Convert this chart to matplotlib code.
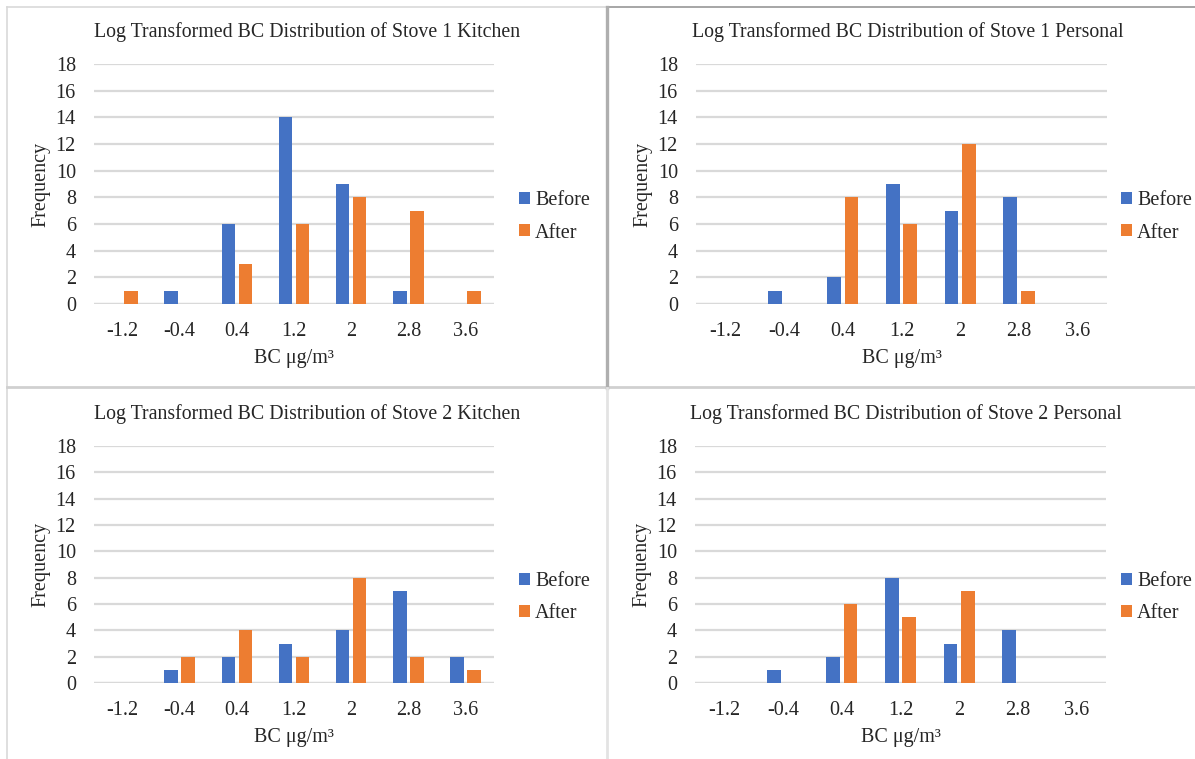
import matplotlib
matplotlib.use("Agg")
import matplotlib.pyplot as plt
from matplotlib.lines import Line2D
import numpy as np

plt.rcParams['font.family'] = ['Liberation Serif', 'DejaVu Serif']

categories = ["-1.2", "-0.4", "0.4", "1.2", "2", "2.8", "3.6"]
series_names = ["Before", "After"]

titles = [
    "Log Transformed BC Distribution of Stove 1 Kitchen",
    "Log Transformed BC Distribution of Stove 1 Personal",
    "Log Transformed BC Distribution of Stove 2 Kitchen",
    "Log Transformed BC Distribution of Stove 2 Personal",
]

s1_kitchen_before = [0, 1, 6, 14, 9, 1, 0]
s1_kitchen_after = [1, 0, 3, 6, 8, 7, 1]
s1_personal_before = [0, 1, 2, 9, 7, 8, 0]
s1_personal_after = [0, 0, 8, 6, 12, 1, 0]
s2_kitchen_before = [0, 1, 2, 3, 4, 7, 2]
s2_kitchen_after = [0, 2, 4, 2, 8, 2, 1]
s2_personal_before = [0, 1, 2, 8, 3, 4, 0]
s2_personal_after = [0, 0, 6, 5, 7, 0, 0]

panel_data = [
    (s1_kitchen_before, s1_kitchen_after),
    (s1_personal_before, s1_personal_after),
    (s2_kitchen_before, s2_kitchen_after),
    (s2_personal_before, s2_personal_after),
]

W, H = 1195, 759
fig = plt.figure(figsize=(W / 100, H / 100), dpi=100)
fig.patch.set_facecolor('white')

BLUE = '#4472C4'
ORANGE = '#ED7D31'
GRID = '#D9D9D9'
TXT = '#262626'

# axes rectangles in pixels: (left, right, top(18), bottom(0))
rects = [
    (94, 494, 64, 304),
    (696, 1107, 64, 304),
    (94, 494, 446, 683),
    (695, 1106, 446, 683),
]
legend_x = [519, 1121, 519, 1121]
title_pos = [(307, 32), (908, 32), (307, 414), (906, 414)]

for i, ((l, r, t, b), (before, after)) in enumerate(zip(rects, panel_data)):
    ax = fig.add_axes([l / W, 1 - b / H, (r - l) / W, (b - t) / H])
    x = np.arange(len(categories))
    ax.bar(x - 0.149, before, width=0.237, color=BLUE, label=series_names[0], zorder=3)
    ax.bar(x + 0.149, after, width=0.237, color=ORANGE, label=series_names[1], zorder=3)
    ax.set_xlim(-0.5, len(categories) - 0.5)
    ax.set_ylim(0, 18)
    ax.set_yticks(range(0, 19, 2))
    ax.set_xticks(x)
    ax.set_xticklabels(categories)
    ax.yaxis.grid(True, color=GRID, linewidth=1.6, zorder=0)
    ax.set_axisbelow(True)
    for s in ax.spines.values():
        s.set_visible(False)
    ax.axhline(0, color=GRID, linewidth=1.6, zorder=1)
    ax.tick_params(axis='both', length=0, labelsize=14.5, colors=TXT)
    ax.tick_params(axis='y', pad=13)
    ax.tick_params(axis='x', pad=13)
    ax.set_xlabel("BC μg/m³", fontsize=14.5, color=TXT, labelpad=6)
    ax.set_ylabel("Frequency", fontsize=14.5, color=TXT, labelpad=4)
    tx, ty = title_pos[i]
    fig.text(tx / W, 1 - ty / H, titles[i], ha='center', va='center',
             fontsize=14.3, color=TXT)
    leg = ax.legend(loc='center left',
                    bbox_to_anchor=(legend_x[i] / W, 1 - ((t + b) / 2 + 33) / H),
                    bbox_transform=fig.transFigure, frameon=False,
                    fontsize=14.5, handlelength=0.55, handleheight=0.55,
                    handletextpad=0.25, labelspacing=0.65, borderpad=0,
                    borderaxespad=0)
    for txt in leg.get_texts():
        txt.set_color(TXT)

# panel borders
def fline(x0, y0, x1, y1, color, lw):
    fig.add_artist(Line2D([x0 / W, x1 / W], [1 - y0 / H, 1 - y1 / H],
                          color=color, linewidth=lw, transform=fig.transFigure))

fline(7, 7, 607, 7, '#D9D9D9', 1.2)
fline(607, 7, 1195, 7, '#A6A6A6', 1.4)
fline(7, 7, 7, 759, '#D9D9D9', 1.2)
fline(7, 387, 1195, 387, '#D0D0D0', 2.0)
fline(607, 7, 607, 388, '#AFAFAF', 2.4)
fline(607, 388, 607, 759, '#E3E3E3', 2.0)

fig.savefig("out.png", dpi=100, facecolor='white')
